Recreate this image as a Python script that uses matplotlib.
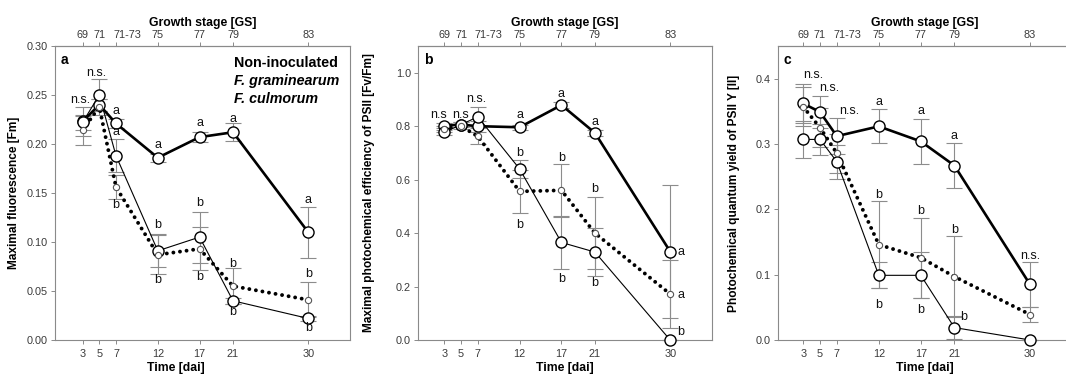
import matplotlib
matplotlib.use('Agg')
import matplotlib.pyplot as plt
from matplotlib.ticker import FormatStrFormatter
from matplotlib.transforms import ScaledTranslation

plt.rcParams['font.family'] = ['Liberation Sans', 'DejaVu Sans']

# ---------------- data ----------------
days = [3, 5, 7, 12, 17, 21, 30]
gs_labels = ['69', '71', '71-73', '75', '77', '79', '83']
series_names = ['Non-inoculated', 'F. graminearum', 'F. culmorum']

# Panel a: maximal fluorescence Fm
fm_non = [0.223, 0.240, 0.221, 0.186, 0.207, 0.212, 0.110]
fm_non_err = [0.015, 0.006, 0.005, 0.004, 0.005, 0.009, 0.026]
fm_gram = [0.222, 0.250, 0.188, 0.091, 0.105, 0.040, 0.022]
fm_gram_err = [0.008, 0.016, 0.017, 0.017, 0.026, 0.003, 0.003]
fm_culm = [0.214, 0.238, 0.156, 0.087, 0.093, 0.055, 0.041]
fm_culm_err = [0.015, 0.008, 0.012, 0.020, 0.022, 0.018, 0.018]

# Panel b: Fv/Fm
fvfm_non = [0.802, 0.806, 0.800, 0.796, 0.879, 0.775, 0.331]
fvfm_non_err = [0.010, 0.010, 0.020, 0.010, 0.010, 0.010, 0.250]
fvfm_gram = [0.777, 0.806, 0.835, 0.640, 0.365, 0.329, 0.000]
fvfm_gram_err = [0.010, 0.010, 0.037, 0.035, 0.100, 0.090, 0.000]
fvfm_culm = [0.790, 0.800, 0.762, 0.556, 0.560, 0.400, 0.172]
fvfm_culm_err = [0.010, 0.010, 0.030, 0.080, 0.100, 0.135, 0.128]

# Panel c: Y(II)
y2_non = [0.362, 0.349, 0.312, 0.327, 0.304, 0.267, 0.085]
y2_non_err = [0.030, 0.024, 0.028, 0.026, 0.034, 0.034, 0.035]
y2_gram = [0.307, 0.307, 0.273, 0.099, 0.099, 0.019, 0.000]
y2_gram_err = [0.028, 0.024, 0.026, 0.020, 0.035, 0.018, 0.000]
y2_culm = [0.357, 0.325, 0.286, 0.146, 0.126, 0.097, 0.039]
y2_culm_err = [0.030, 0.030, 0.030, 0.066, 0.061, 0.062, 0.012]

# significance letters (x in dai, y in data units, text)
letters_a = [(2.7, 0.245, 'n.s.'), (4.6, 0.272, 'n.s.'),
             (7, 0.234, 'a'), (7, 0.212, 'a'), (7, 0.138, 'b'),
             (12, 0.199, 'a'), (12, 0.117, 'b'), (12, 0.061, 'b'),
             (17, 0.221, 'a'), (17, 0.140, 'b'), (17, 0.064, 'b'),
             (21, 0.226, 'a'), (21, 0.078, 'b'), (21, 0.029, 'b'),
             (30, 0.143, 'a'), (30, 0.067, 'b'), (30, 0.012, 'b')]
letters_b = [(2.3, 0.84, 'n.s'), (4.9, 0.84, 'n.s'), (6.8, 0.90, 'n.s.'),
             (12, 0.84, 'a'), (12, 0.70, 'b'), (12, 0.43, 'b'),
             (17, 0.92, 'a'), (17, 0.68, 'b'), (17, 0.23, 'b'),
             (21, 0.815, 'a'), (21, 0.565, 'b'), (21, 0.212, 'b'),
             (31.3, 0.33, 'a'), (31.3, 0.17, 'a'), (31.3, 0.03, 'b')]
letters_c = [(4.2, 0.405, 'n.s.'), (6.1, 0.385, 'n.s.'), (8.5, 0.350, 'n.s.'),
             (12, 0.364, 'a'), (17, 0.350, 'a'), (21, 0.312, 'a'),
             (12, 0.222, 'b'), (12, 0.053, 'b'), (17, 0.198, 'b'),
             (17, 0.046, 'b'), (21, 0.169, 'b'), (22.1, 0.035, 'b'),
             (30, 0.128, 'n.s.')]

panels = [
    dict(tag='a', ylabel='Maximal fluorescence [Fm]',
         series=[(fm_non, fm_non_err), (fm_gram, fm_gram_err), (fm_culm, fm_culm_err)],
         ylim=(0, 0.30), yticks=[0, 0.05, 0.10, 0.15, 0.20, 0.25, 0.30], fmt='%.2f',
         letters=letters_a, rect=[55, 295], xlim=(-0.3, 35), ylabx=-0.119, xlabx=0.41,
         legend=True),
    dict(tag='b', ylabel='Maximal photochemical efficiency of PSII [Fv/Fm]',
         series=[(fvfm_non, fvfm_non_err), (fvfm_gram, fvfm_gram_err), (fvfm_culm, fvfm_culm_err)],
         ylim=(0, 1.1), yticks=[0, 0.2, 0.4, 0.6, 0.8, 1.0], fmt='%.1f',
         letters=letters_b, rect=[418, 294], xlim=(-0.15, 35), ylabx=-0.146, xlabx=0.5,
         legend=False),
    dict(tag='c', ylabel='Photochemical quantum yield of PSII Y [II]',
         series=[(y2_non, y2_non_err), (y2_gram, y2_gram_err), (y2_culm, y2_culm_err)],
         ylim=(0, 0.45), yticks=[0, 0.1, 0.2, 0.3, 0.4], fmt='%.1f',
         letters=letters_c, rect=[778, 294], xlim=(0, 35), ylabx=-0.129, xlabx=0.5,
         legend=False),
]

# ---------------- styling ----------------
W, H = 1066, 376
fig = plt.figure(figsize=(W / 100, H / 100), dpi=100)
spine_col = '#8a8a8a'
tick_col = '#3a3a3a'
err_col = '#8c8c8c'

line_styles = [
    dict(color='black', lw=1.9, ls='-', ms=8, mec='black', mew=1.0),
    dict(color='black', lw=0.8, ls='-', ms=8, mec='black', mew=1.0),
    dict(color='black', lw=2.8, ls=(0, (0.01, 1.7)), ms=4.5, mec='#555555', mew=0.8),
]

top_px, bot_px = 46, 340
for p in panels:
    left, width = p['rect']
    ax = fig.add_axes([left / W, (H - bot_px) / H, width / W, (bot_px - top_px) / H])
    for (vals, errs), st in zip(p['series'], line_styles):
        ax.errorbar(days, vals, yerr=errs, fmt='none', ecolor=err_col, elinewidth=0.8,
                    capsize=5.5, capthick=0.8, zorder=1, clip_on=False)
    for (vals, errs), st in zip(p['series'], line_styles):
        ax.plot(days, vals, color=st['color'], lw=st['lw'], ls=st['ls'],
                dash_capstyle='round', zorder=2, clip_on=False)
        ax.plot(days, vals, ls='none', marker='o', ms=st['ms'], mfc='white',
                mec=st['mec'], mew=st['mew'], zorder=3, clip_on=False)

    ax.set_xlim(*p['xlim'])
    ax.set_ylim(*p['ylim'])
    ax.set_yticks(p['yticks'])
    ax.yaxis.set_major_formatter(FormatStrFormatter(p['fmt']))
    ax.set_xticks(days)
    ax.set_xticklabels([str(d) for d in days])
    for s in ax.spines.values():
        s.set_color(spine_col)
        s.set_linewidth(0.8)
    ax.tick_params(axis='both', colors=spine_col, labelcolor=tick_col, labelsize=7.8,
                   length=3, width=0.7, direction='out')
    ax.tick_params(axis='x', pad=3.5)
    ax.tick_params(axis='y', pad=2)

    ax.set_ylabel(p['ylabel'], fontsize=8.6, fontweight='bold')
    ax.yaxis.set_label_coords(p['ylabx'], 0.5)
    ax.set_xlabel('Time [dai]', fontsize=8.8, fontweight='bold')
    ax.xaxis.set_label_coords(p['xlabx'], -0.075)

    sec = ax.secondary_xaxis('top')
    sec.set_xticks(days)
    sec.set_xticklabels(gs_labels)
    sec.tick_params(axis='x', colors=spine_col, labelcolor=tick_col, labelsize=7.8,
                    length=3, width=0.7, pad=1.5)
    sec.spines['top'].set_color(spine_col)
    sec.set_xlabel('Growth stage [GS]', fontsize=8.8, fontweight='bold', labelpad=3)
    shift = ScaledTranslation(11 / 100, 0, fig.dpi_scale_trans)
    for lab in sec.get_xticklabels():
        if lab.get_text() == '71-73':
            lab.set_transform(lab.get_transform() + shift)

    ax.text(0.02, 0.952, p['tag'], transform=ax.transAxes, fontsize=10,
            fontweight='bold', ha='left', va='center')

    for x, y, t in p['letters']:
        ax.text(x, y, t, fontsize=9, ha='center', va='center', color='#111111', zorder=4)

    if p['legend']:
        for i, name in enumerate(series_names):
            ax.text(0.607, 0.942 - i * 0.061, name, transform=ax.transAxes,
                    fontsize=10.3, fontweight='bold', ha='left', va='center',
                    style='normal' if i == 0 else 'italic')

fig.savefig('out.png', dpi=100)
